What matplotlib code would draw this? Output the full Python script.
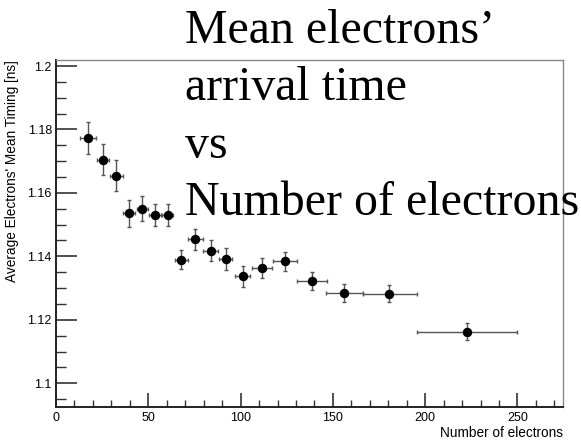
import matplotlib
matplotlib.use("Agg")
import matplotlib.pyplot as plt
from matplotlib.ticker import MultipleLocator

# Mean electron arrival time per bin of electron multiplicity
n_electrons = [17.2, 25.3, 32.5, 39.7, 46.6, 53.5, 60.7, 67.7, 75.3, 84.0,
               91.9, 101.1, 111.6, 123.9, 138.5, 156.2, 180.6, 222.5]
bin_lo = [13.0, 22.0, 29.2, 36.5, 43.7, 50.5, 57.6, 64.5, 71.7, 79.8,
          88.3, 97.0, 106.0, 117.7, 130.4, 146.3, 166.5, 195.4]
bin_hi = [21.7, 28.7, 36.1, 42.8, 50.0, 56.7, 63.5, 71.7, 79.8, 87.9,
          95.5, 105.0, 117.2, 130.4, 146.6, 166.5, 195.4, 249.6]
mean_timing = [1.1774, 1.1705, 1.1654, 1.1536, 1.1550, 1.1531, 1.1531, 1.1389,
               1.1454, 1.1418, 1.1391, 1.1337, 1.1363, 1.1385, 1.1322, 1.1285,
               1.1282, 1.1163]
timing_err = [0.0050, 0.0049, 0.0049, 0.0042, 0.0039, 0.0034, 0.0035, 0.0030,
              0.0033, 0.0033, 0.0034, 0.0034, 0.0031, 0.0030, 0.0029, 0.0028,
              0.0027, 0.0027]

title_lines = ["Mean electrons’", "arrival time", "vs", "Number of electrons"]

xerr = [[x - lo for x, lo in zip(n_electrons, bin_lo)],
        [hi - x for x, hi in zip(n_electrons, bin_hi)]]

plt.rcParams["font.family"] = ["Liberation Sans", "DejaVu Sans"]

W, H = 581, 440
fig = plt.figure(figsize=(W / 100, H / 100), dpi=100)
ax = fig.add_axes([56 / W, 1 - 406.7 / H, (562.7 - 56) / W, (406.7 - 60) / H])

ax.errorbar(n_electrons, mean_timing, xerr=xerr, yerr=timing_err,
            fmt="o", color="black", markersize=5.8, ecolor="#555555",
            elinewidth=1.0, capsize=1.6, capthick=1.0)

ax.set_xlim(0, 274.5)
ax.set_ylim(1.0926, 1.2019)

ax.xaxis.set_major_locator(MultipleLocator(50))
ax.xaxis.set_minor_locator(MultipleLocator(10))
ax.yaxis.set_major_locator(MultipleLocator(0.02))
ax.yaxis.set_minor_locator(MultipleLocator(0.005))
ax.yaxis.set_major_formatter(plt.FuncFormatter(lambda v, p: f"{v:g}"))

ax.tick_params(which="both", direction="in", top=False, right=False,
               labelsize=9, color="#333333")
ax.tick_params(axis="y", which="major", length=15, width=1.2, pad=3)
ax.tick_params(axis="y", which="minor", length=7.5, width=1.0)
ax.tick_params(axis="x", which="major", length=10, width=1.2, pad=4)
ax.tick_params(axis="x", which="minor", length=5, width=1.0)

for side in ("left", "bottom"):
    ax.spines[side].set_linewidth(1.4)
    ax.spines[side].set_color("#222222")
for side in ("top", "right"):
    ax.spines[side].set_linewidth(1.0)
    ax.spines[side].set_color("#888888")

ax.set_xlabel("Number of electrons", fontsize=9.8, loc="right", labelpad=1)
fig.text(12 / W, 1 - 171.5 / H, "Average Electrons' Mean Timing [ns]",
         rotation=90, ha="center", va="center", fontsize=9.8)

# big serif title, one line at a time on fixed baselines
for i, line in enumerate(title_lines):
    fig.text(185 / W, 1 - (42.7 + 57.5 * i) / H, line,
             family="Liberation Serif", fontsize=34.5,
             ha="left", va="baseline")

fig.savefig("out.png", dpi=100)
